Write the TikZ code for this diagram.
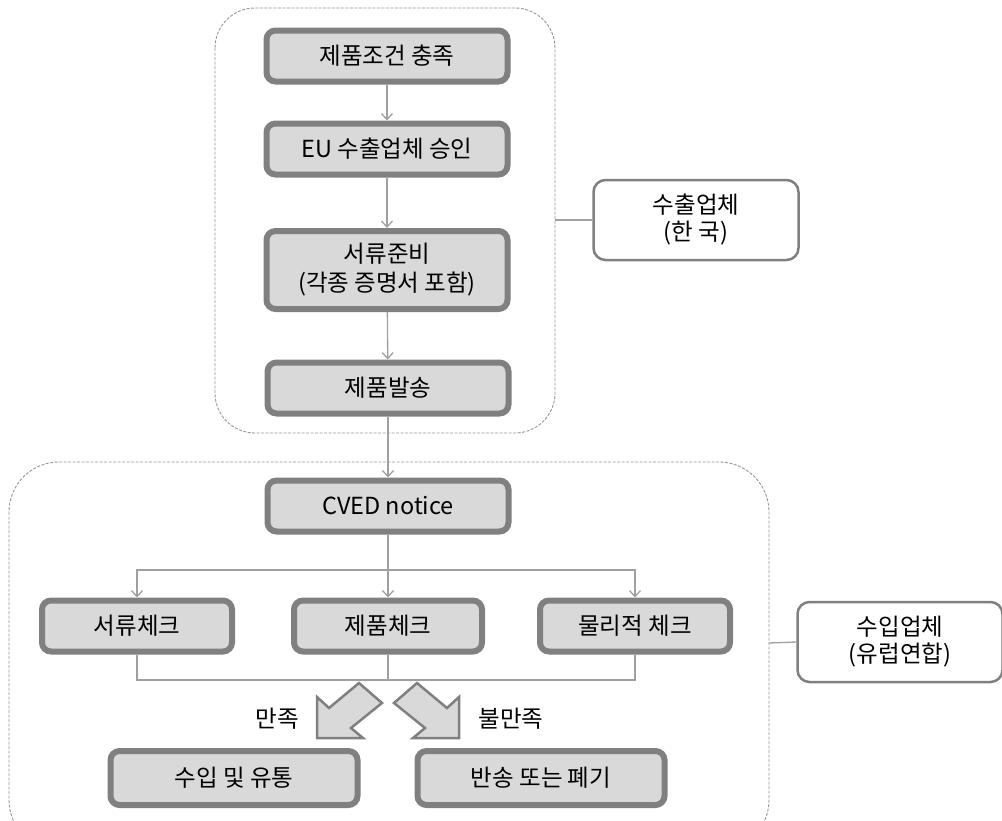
\documentclass[tikz,border=0pt]{standalone}
\usepackage{fontspec}
\setmainfont{Noto Sans CJK KR}
\usetikzlibrary{calc, arrows, arrows.meta, positioning}
\definecolor{boxfill}{RGB}{217, 217, 217}
\definecolor{boxline}{RGB}{128, 128, 128}
\definecolor{wireline}{RGB}{160, 160, 160}
\definecolor{groupline}{RGB}{150, 150, 150}
\tikzset{
    stepbox/.style = {draw=boxline, fill=boxfill, rectangle, rounded corners=9pt, line width=6pt,
      minimum width=241pt, minimum height=51pt, inner sep=0pt, font=\fontsize{23.5}{29}\selectfont},
    sidebox/.style = {draw=boxline, fill=white, rectangle, rounded corners=12pt, line width=2.5pt,
      minimum width=205pt, minimum height=80pt, inner sep=0pt, font=\fontsize{23.5}{27}\selectfont},
    groupbox/.style = {draw=groupline, dash pattern=on 3pt off 1.5pt, line width=0.9pt},
    labelnode/.style = {draw=none, fill=none, inner sep=0pt, font=\fontsize{23.5}{29}\selectfont},
    connect/.style = {wireline, line width=1.3pt, ->, >={Straight Barb[length=6pt,width=11pt]}},
    plain/.style = {wireline, line width=1.3pt},
    bigarrow/.style = {draw=boxline, fill=boxfill, line width=2.5pt, line join=miter},
    every text node part/.style={align=center}
}

\begin{document}
\begin{tikzpicture}[x=1pt, y=-1pt]
\useasboundingbox (0,0) rectangle (1002,820);
% groups
\draw [groupbox, rounded corners=40pt] (215,8) rectangle (555,433);
\draw [groupbox, rounded corners=50pt] (9,462) rectangle (769,850);
% exporter side
\node [name=meet, stepbox] at (387,56) {제품조건 충족};
\node [name=approve, stepbox] at (387,149) {EU 수출업체 승인};
\node [name=papers, stepbox, minimum height=78pt] at (387,270) {서류준비\\(각종 증명서 포함)};
\node [name=ship, stepbox] at (388,388) {제품발송};
\node [name=exporter, sidebox] at (696,220) {수출업체\\(한 국)};
% importer side
\node [name=cved, stepbox] at (388,506) {CVED notice};
\node [name=doccheck, stepbox, minimum width=190pt] at (137,626) {서류체크};
\node [name=prodcheck, stepbox, minimum width=188pt] at (388,626) {제품체크};
\node [name=physcheck, stepbox, minimum width=190pt] at (635,626) {물리적 체크};
\node [name=accept, stepbox, minimum width=247pt, minimum height=54pt] at (234,778) {수입 및 유통};
\node [name=reject, stepbox, minimum width=247pt, minimum height=54pt] at (541,778) {반송 또는 폐기};
\node [name=importer, sidebox] at (900,642) {수입업체\\(유럽연합)};
\node [name=oklabel, labelnode] at (277,719) {만족};
\node [name=nglabel, labelnode] at (511,719) {불만족};
\coordinate (split) at (388,570);
\coordinate (merge) at (388,680);
% connectors
\draw [connect] (meet) -- (approve);
\draw [connect] (approve) -- (papers);
\draw [connect] (papers) -- (ship);
\draw [connect] (ship) -- (cved);
\draw [connect] (cved) -- (prodcheck);
\draw [connect] (split) -| (doccheck);
\draw [connect] (split) -| (physcheck);
\draw [plain] (doccheck.south) |- (merge) -| (physcheck.south);
\draw [plain] (prodcheck) -- (merge);
\draw [plain] (555,220) -- (exporter.west);
\draw [plain] (769,643) -- (importer.west);
% block arrows
\draw [bigarrow] (317,738) -- (317,697) -- (329,708) -- (359,683) -- (382,703) -- (351,728) -- (363,738) -- cycle;
\draw [bigarrow] (459,738) -- (459,697) -- (447,708) -- (417,683) -- (394,703) -- (425,728) -- (413,738) -- cycle;
\end{tikzpicture}
\end{document}
